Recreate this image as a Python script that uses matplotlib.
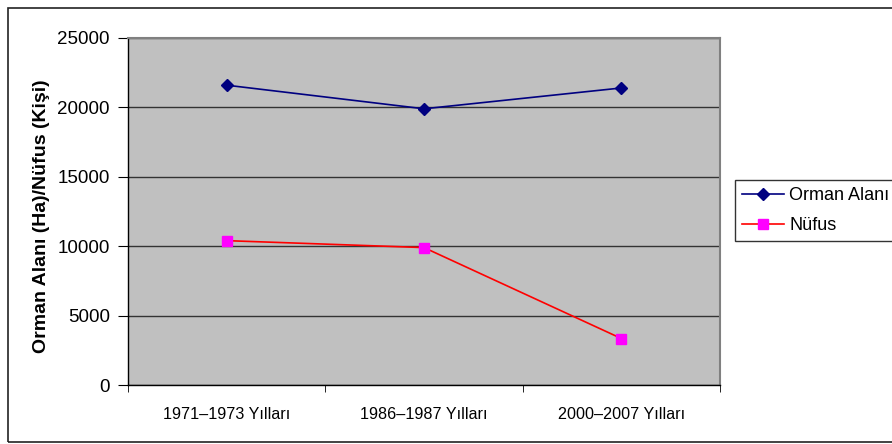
import matplotlib
matplotlib.use("Agg")
import matplotlib.pyplot as plt
from matplotlib.patches import Rectangle

categories = ["1971\u20131973 Yılları", "1986\u20131987 Yılları", "2000\u20132007 Yılları"]
orman_alani = [21600, 19900, 21400]
nufus = [10400, 9900, 3350]
yticks = [0, 5000, 10000, 15000, 20000, 25000]

plt.rcParams['font.family'] = ['Liberation Sans', 'DejaVu Sans']

W, H = 892, 444
fig = plt.figure(figsize=(W / 100, H / 100), dpi=100)

# outer chart border
fig.patches.append(Rectangle((8 / W, 2 / H), 1.0, (442 - 8) / H, transform=fig.transFigure,
                             fill=False, edgecolor='#222222', linewidth=1.2, zorder=0))

ax = fig.add_axes([128 / W, (H - 385) / H, (720 - 128) / W, (385 - 38) / H])
ax.set_facecolor('#C0C0C0')

x = list(range(len(categories)))
ax.plot(x, orman_alani, color='#000080', marker='D', markersize=6, linewidth=1.2,
        markerfacecolor='#000080', markeredgecolor='#000080', label='Orman Alanı', zorder=3)
ax.plot(x, nufus, color='#FF0000', marker='s', markersize=6.5, linewidth=1.2,
        markerfacecolor='#FF00FF', markeredgecolor='#FF00FF', label='Nüfus', zorder=3)

ax.set_xlim(-0.5, len(categories) - 0.5)
ax.set_ylim(0, 25000)
ax.set_yticks(yticks)
ax.set_yticklabels([str(v) for v in yticks], fontsize=13.5)
ax.set_xticks(x)
ax.set_xticklabels(categories, fontsize=11.6)
ax.tick_params(axis='x', length=0, pad=16)
ax.set_xticks([-0.5, 0.5, 1.5, 2.5], minor=True)
ax.tick_params(axis='x', which='minor', length=5, direction='out', color='black')
ax.tick_params(axis='y', length=7, direction='out', color='black', pad=6)

ax.yaxis.grid(True, color='#333333', linewidth=1.0)
ax.set_axisbelow(True)

for s in ['top', 'right']:
    ax.spines[s].set_color('#808080')
    ax.spines[s].set_linewidth(1.5)
for s in ['left', 'bottom']:
    ax.spines[s].set_color('black')
    ax.spines[s].set_linewidth(1.0)

fig.text(42 / W, 1 - 216 / H, 'Orman Alanı (Ha)/Nüfus (Kişi)', rotation=90,
         ha='center', va='center', fontsize=14, fontweight='bold')

leg = ax.legend(loc='upper left', bbox_to_anchor=(735 / W, (H - 180) / H),
                bbox_transform=fig.transFigure, frameon=True, fancybox=False,
                fontsize=13, handlelength=2.3, borderpad=0.4, labelspacing=0.7,
                handletextpad=0.3, borderaxespad=0)
leg.get_frame().set_edgecolor('black')
leg.get_frame().set_linewidth(1.0)

fig.savefig('out.png', dpi=100)
